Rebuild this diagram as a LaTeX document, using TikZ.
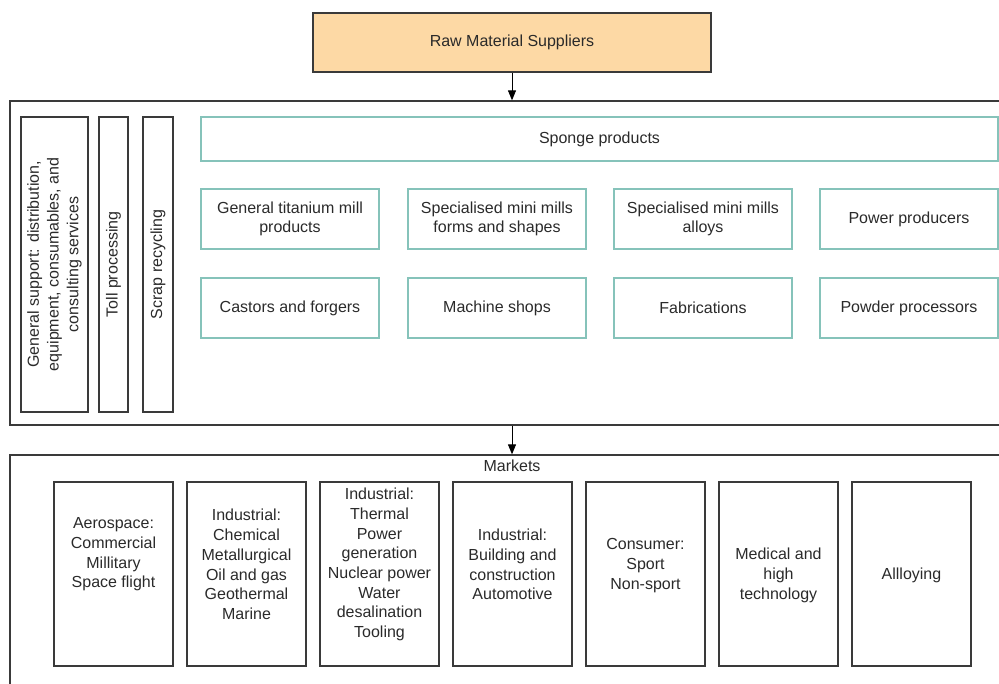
\documentclass[tikz,border=0pt]{standalone}
\usepackage{fontspec}
\setmainfont{Liberation Sans}
\usetikzlibrary{arrows.meta}
\definecolor{peach}{HTML}{FDD9A5}
\definecolor{teal}{HTML}{86C3BA}
\definecolor{frame}{HTML}{3A3A3A}
\definecolor{ink}{HTML}{2A2A2A}
\begin{document}
\begin{tikzpicture}[x=1pt,y=-1pt,
  every node/.style={font=\fontsize{16}{19.7}\selectfont, text=ink, align=center, inner sep=0pt},
  container/.style={draw=frame, line width=1.3pt, rectangle},
  supplier/.style={draw=frame, line width=1.2pt, fill=peach},
  sidebox/.style={draw=frame, line width=1.2pt, rotate=90, minimum width=295pt},
  prodbox/.style={draw=teal, line width=1.3pt, minimum width=178pt, minimum height=60pt},
  marketbox/.style={draw=frame, line width=1.3pt, minimum width=119pt, minimum height=184pt},
  arr/.style={-{Triangle[width=8pt,length=10pt]}, line width=1pt, draw=black}
]
\useasboundingbox (0,0) rectangle (999,684);
\clip (0,0) rectangle (999,684);

% supplier at the top
\node[supplier, minimum width=398pt, minimum height=59pt] (raw) at (512,42.5) {Raw Material Suppliers};

% production container
\node[container, minimum width=995pt, minimum height=324pt] (prod) at (507.5,263) {};

% support columns on the left
\node[sidebox, minimum height=67pt] (support) at (54.5,264.5)
  {General support: distribution,\\equipment, consumables, and\\consulting services};
\node[sidebox, minimum height=29pt] (toll) at (113.5,264.5) {Toll processing};
\node[sidebox, minimum height=30pt] (scrap) at (158,264.5) {Scrap recycling};

% sponge and mill products
\node[draw=teal, line width=1.3pt, minimum width=797pt, minimum height=44pt] (sponge) at (599.5,139) {Sponge products};

\node[prodbox] (mill)   at (290,219) {General titanium mill\\products};
\node[prodbox] (forms)  at (497,219) {Specialised mini mills\\forms and shapes};
\node[prodbox] (alloys) at (703,219) {Specialised mini mills\\alloys};
\node[prodbox] (power)  at (909,219) {Power producers};

\node[prodbox] (castors) at (290,308) {Castors and forgers};
\node[prodbox] (machine) at (497,308) {Machine shops};
\node[prodbox] (fabric)  at (703,308) {Fabrications};
\node[prodbox] (powder)  at (909,308) {Powder processors};

% markets container
\node[container, minimum width=995pt, minimum height=250pt] (mkt) at (507.5,580) {};
\node (mktlabel) at (512,466) {Markets};

% market segments: frames, then their texts
\node[marketbox] (aero)  at (113.5,574) {};
\node[marketbox] (chem)  at (246.5,574) {};
\node[marketbox] (therm) at (379.5,574) {};
\node[marketbox] (build) at (512.5,574) {};
\node[marketbox] (cons)  at (645.5,574) {};
\node[marketbox] (med)   at (778.5,574) {};
\node[marketbox] (alloy) at (911.5,574) {};

\node (aerotxt)  at (113.5,554.5) {Aerospace:\\Commercial\\Millitary\\Space flight};
\node (chemtxt)  at (246.5,564.5) {Industrial:\\Chemical\\Metallurgical\\Oil and gas\\Geothermal\\Marine};
\node (thermtxt) at (379.5,564.5) {Industrial:\\Thermal\\Power\\generation\\Nuclear power\\Water\\desalination\\Tooling};
\node (buildtxt) at (512.5,564.5) {Industrial:\\Building and\\construction\\Automotive};
\node (constxt)  at (645.5,565.5) {Consumer:\\Sport\\Non-sport};
\node (medtxt)   at (778.5,575.5) {Medical and\\high\\technology};
\node (alloytxt) at (911.5,575.5) {Allloying};

% flow arrows
\draw[arr] (raw.south) -- (raw.south |- prod.north);
\draw[arr] (raw.south |- prod.south) -- (raw.south |- mkt.north);
\end{tikzpicture}
\end{document}
